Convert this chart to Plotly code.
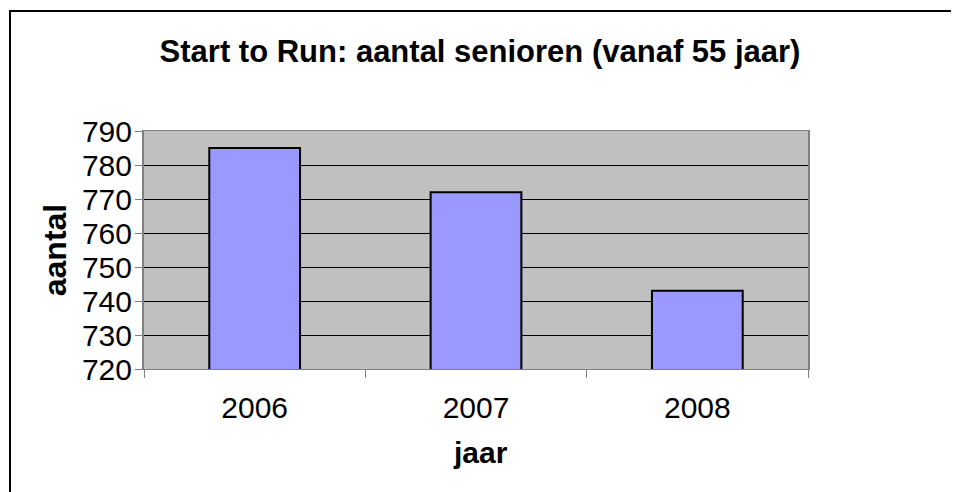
import plotly.graph_objects as go

years = ["2006", "2007", "2008"]
aantal = [785, 772, 743]
y_ticks = [720, 730, 740, 750, 760, 770, 780, 790]

title_text = "Start to Run: aantal senioren (vanaf 55 jaar)"
x_title = "jaar"
y_title = "aantal"

# page body has an 8px margin; work in screen coordinates and subtract it
OFF = 8
W, H = 959 - 2 * OFF, 492 - OFF
PL, PR, PT, PB = 144, 808, 131, 369  # plot area in screen px
L, R, T, B = PL - OFF, W - (PR - OFF), PT - OFF, H - (PB - OFF)
pw, ph = W - L - R, H - T - B
FONT = "Liberation Sans, Arial, sans-serif"

def px_x(x):
    return (x - PL) / pw

def px_y(y):
    return (PB - y) / ph

fig = go.Figure()
fig.add_trace(go.Bar(
    x=years, y=aantal,
    marker=dict(color="#9999FF", line=dict(color="black", width=2)),
    width=0.41,
))

fig.update_layout(
    width=W, height=H,
    margin=dict(l=L, r=R, t=T, b=B, pad=0),
    paper_bgcolor="white",
    plot_bgcolor="#C0C0C0",
    showlegend=False,
    font=dict(family=FONT, color="black"),
    title=dict(text="<b>" + title_text + "</b>", x=(480 - OFF) / W, xref="container", xanchor="center",
               y=1 - (51 - OFF) / H, yref="container", yanchor="middle",
               font=dict(size=31, family=FONT, color="black")),
    xaxis=dict(
        tickson="boundaries", ticks="outside", ticklen=8, tickwidth=1, tickcolor="#808080",
        showline=True, linecolor="#808080", linewidth=1, mirror=True,
        tickfont=dict(size=30, family=FONT, color="black"),
        ticklabelstandoff=12,
        showgrid=False,
    ),
    yaxis=dict(
        range=[720, 790], tickvals=y_ticks, ticks="outside", ticklen=7, tickwidth=1,
        tickcolor="#808080", showline=True, linecolor="#808080", linewidth=2, mirror=True,
        showgrid=True, gridcolor="black", gridwidth=1,
        tickfont=dict(size=30, family=FONT, color="black"),
        ticklabelstandoff=-3,
        zeroline=False,
        title=dict(text="<b>" + y_title + "</b>", standoff=6,
                   font=dict(size=32, family=FONT, color="black")),
    ),
    annotations=[
        dict(text="<b>" + x_title + "</b>", xref="paper", yref="paper",
             x=px_x(480), y=px_y(452), xanchor="center", yanchor="middle",
             showarrow=False, font=dict(size=30, family=FONT, color="black")),
    ],
    shapes=[
        dict(type="line", xref="paper", yref="paper",
             x0=px_x(10), x1=px_x(10), y0=px_y(500), y1=px_y(11),
             line=dict(color="black", width=2)),
        dict(type="line", xref="paper", yref="paper",
             x0=px_x(9), x1=px_x(960), y0=px_y(11), y1=px_y(11),
             line=dict(color="black", width=2)),
    ],
)

fig.write_html("out.html")
